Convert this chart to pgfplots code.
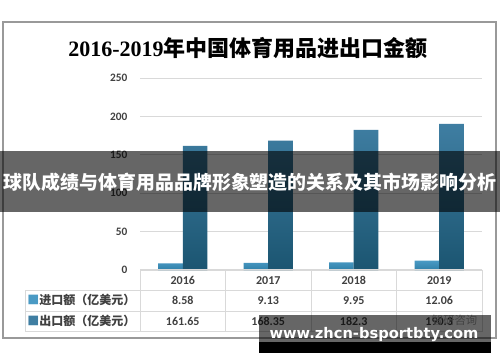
\documentclass[border=0pt]{standalone}
\usepackage{fontspec}
\setmainfont{Carlito}
\newfontfamily\cjk{Noto Sans CJK SC}
\newfontfamily\serifd{Liberation Serif}
\newfontfamily\dejavu{DejaVu Sans}
\usepackage{pgfplots}
\pgfplotsset{compat=1.18}
\definecolor{imp}{HTML}{4A9AC4}
\definecolor{impdark}{HTML}{2F7FA8}
\definecolor{expc}{HTML}{3F7EA2}
\definecolor{expdark}{HTML}{1B5571}
\definecolor{txt}{HTML}{404040}
\definecolor{gridc}{HTML}{D9D9D9}
\begin{document}
\begin{tikzpicture}
\path[use as bounding box] (0,0) rectangle (375pt,271.5pt);
\fill[white] (0,0) rectangle (375pt,271.5pt);
\begin{scope}[x=0.75pt,y=-0.75pt,yshift=271.5pt]
\draw[color=gray!80, line width=0.9pt] (3,22) rectangle (496,338);
\node[font=\fontsize{16.5}{16.5}\selectfont, text=black] at (248,48) {{\serifd\bfseries 2016-2019}{\cjk\bfseries 年中国体育用品进出口金额}};
\end{scope}
\begin{axis}[at={(105pt,69pt)}, anchor=south west, scale only axis,
  width=256.5pt, height=144pt, xmin=-0.5, xmax=3.5, ymin=0, ymax=250,
  ytick={0,50,...,250}, xtick=\empty, axis line style={draw=none},
  major tick length=0pt, ymajorgrids, grid style={gridc, line width=0.75pt},
  yticklabel style={font=\fontsize{8.5}{8.5}\selectfont\bfseries, text=txt, xshift=-6pt},
  /pgf/number format/assume math mode=true, clip=false, bar width=18.4pt]
\addplot[ybar, bar shift=-9.2pt, draw=none, top color=imp, bottom color=impdark] coordinates {(0,8.58) (1,9.13) (2,9.95) (3,12.06)};
\addplot[ybar, bar shift=9.2pt, draw=none, top color=expc, bottom color=expdark] coordinates {(0,161.65) (1,168.35) (2,182.3) (3,190.3)};
\end{axis}
\begin{scope}[x=0.75pt,y=-0.75pt,yshift=271.5pt]
\draw[gridc, line width=0.75pt] (140,269.5)--(482,269.5);
\draw[gridc, line width=0.75pt] (25,290.5)--(482,290.5) (25,311)--(482,311) (25,331.5)--(482,331.5);
\draw[gridc, line width=0.75pt] (25,290.5)--(25,331.5);
\foreach \x in {140,225.5,311,396.5,482} {\draw[gridc, line width=0.75pt] (\x,269.5)--(\x,331.5);}
\begin{scope}[every node/.style={font=\fontsize{9}{9}\selectfont\bfseries, text=txt, anchor=base}]
\node at (182.75,284) {2016};
\node at (268.25,284) {2017};
\node at (353.75,284) {2018};
\node at (439.25,284) {2019};
\node at (182.75,304.5) {8.58};
\node at (268.25,304.5) {9.13};
\node at (353.75,304.5) {9.95};
\node at (439.25,304.5) {12.06};
\node at (182.75,325) {161.65};
\node at (268.25,325) {168.35};
\node at (353.75,325) {182.3};
\node at (439.25,325) {190.3};
\node[anchor=base west, inner sep=0pt] at (27,304.5) {{\cjk\textcolor{imp}{■}进口额（亿美元）}};
\node[anchor=base west, inner sep=0pt] at (27,325) {{\cjk\textcolor{expc}{■}出口额（亿美元）}};
\end{scope}
\node[text=gray!70, font=\fontsize{8.5}{8.5}\selectfont\cjk, anchor=east] at (482,320) {智研咨询};
% overlay banner
\fill[black, opacity=0.6] (0,151) rectangle (500,212);
\node[text=white, font=\fontsize{14.2}{14.2}\selectfont\cjk\bfseries] at (250,182) {球队成绩与体育用品品牌形象塑造的关系及其市场影响分析};
% watermark
\fill[black, opacity=0.6] (259,315) rectangle (491,342);
\fill[black] (259,342) rectangle (491,352.5);
\node[text=white, font=\fontsize{11}{11}\selectfont\dejavu\bfseries] at (374,335) {www.zhcn-bsportbty.com};
\end{scope}
\end{tikzpicture}
\end{document}
